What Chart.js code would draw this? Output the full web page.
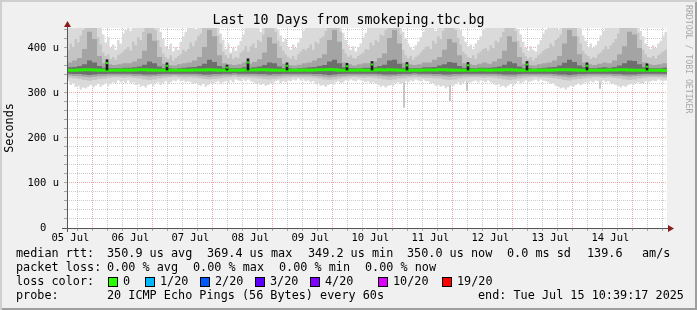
<!DOCTYPE html>
<html>
<head>
<meta charset="utf-8">
<script src="https://cdn.jsdelivr.net/npm/chart.js@4.4.1/dist/chart.umd.min.js"></script>
<style>
  html, body { margin: 0; padding: 0; background: #f0f0f0; }
  #frame {
    position: relative; width: 697px; height: 310px; overflow: hidden;
    background: #f0f0f0;
    box-shadow: inset 2px 2px 0 #cfcfcf, inset -2px -2px 0 #9e9e9e;
    font-family: "DejaVu Sans Mono", monospace; color: #000;
  }
  #chart { position: absolute; left: 0; top: 0; }
  #title { position: absolute; left: 0; top: 12px; width: 697px; text-align: center; font-size: 13.3px; line-height: 16px; white-space: pre; }
  #mark { position: absolute; left: 684px; top: 5px; writing-mode: vertical-rl; font-size: 8.2px; line-height: 9px; color: #a8a8a8; white-space: pre; }
  .t { position: absolute; white-space: pre; font-size: 11.8px; line-height: 14px; }
  .box { position: absolute; top: 277px; width: 8px; height: 8px; border: 1px solid #000; }
</style>
</head>
<body>
<div id="frame">
  <canvas id="chart" width="697" height="310"></canvas>
  <div id="title">Last 10 Days from smokeping.tbc.bg</div>
  <div id="mark">RRDTOOL / TOBI OETIKER</div>
  <div id="legend"></div>
</div>
<script>
// graph starts Sat Jul 05 10:39:17; x values are hours after that
const startClock = 10 + 39 / 60 + 17 / 3600;
const dayLabels = ["05 Jul", "06 Jul", "07 Jul", "08 Jul", "09 Jul", "10 Jul", "11 Jul", "12 Jul", "13 Jul", "14 Jul"];
const yMajorTicks = [0, 100, 200, 300, 400];
const yTickLabels = ["0  ", "100 u", "200 u", "300 u", "400 u"];

// hourly smoke envelopes (24 per row = 1 day), microseconds
const smokeTop = [
  450,450,444,450,450,450,450,450,450,450,450,450,450,448,430,412,424,400,408,396,418,410,432,440,
  450,438,450,450,450,450,450,450,450,450,450,450,446,436,420,404,398,410,392,402,396,414,426,436,
  450,450,450,442,450,450,450,450,450,450,450,450,450,432,418,398,410,390,400,394,406,416,430,446,
  444,450,450,450,450,436,450,450,450,450,450,450,440,428,414,420,402,396,408,400,412,422,438,450,
  450,450,450,450,450,450,450,450,450,450,450,450,450,450,434,418,406,396,404,392,402,410,424,434,
  450,446,450,450,450,450,450,450,450,450,450,450,450,446,436,420,410,402,396,406,414,424,436,450,
  450,450,450,438,450,450,450,450,450,450,450,450,450,440,426,414,404,408,398,410,418,426,440,446,
  446,450,450,450,450,450,450,450,450,450,450,450,442,430,414,400,394,404,396,392,408,418,432,440,
  450,450,450,450,440,450,450,450,450,450,450,450,450,444,428,416,402,410,400,406,416,428,438,450,
  450,450,450,450,450,450,450,450,450,450,450,450,450,438,426,410,404,398,406,400,410,416,428,436
];
const smokeMidTop = [
  396,410,402,420,412,428,440,450,450,450,450,446,424,408,390,382,386,376,380,374,384,388,392,398,
  402,394,414,406,424,418,436,450,450,450,448,440,418,402,388,380,376,384,372,378,382,386,396,392,
  398,412,404,416,426,432,446,450,450,450,450,450,428,410,392,384,378,386,376,380,378,390,394,404,
  392,404,410,400,418,414,430,446,450,450,444,436,416,404,394,386,380,376,382,374,386,392,398,396,
  400,408,396,414,410,422,426,438,450,450,450,450,450,436,398,388,380,384,378,376,382,386,390,398,
  396,412,406,418,414,430,428,440,450,450,450,450,448,430,396,384,378,382,374,380,384,390,396,402,
  404,398,416,410,426,420,438,450,450,450,446,440,422,408,392,386,380,378,384,376,388,392,398,400,
  394,406,400,416,412,424,436,448,450,450,448,438,416,402,390,382,376,380,372,378,384,388,394,398,
  400,410,404,418,422,430,444,450,450,450,450,446,426,410,394,386,382,376,380,378,386,390,396,404,
  398,406,412,420,432,446,450,450,450,450,450,444,434,418,396,386,380,378,382,376,384,388,392,396
];
const smokeLow = [
  326,318,322,314,316,308,312,310,314,318,312,316,320,314,318,322,316,320,324,322,328,324,326,322,
  328,322,324,318,320,314,316,312,318,320,316,322,324,318,322,326,320,324,328,326,330,326,328,324,
  326,324,320,322,318,316,320,314,318,322,320,324,326,320,324,326,322,328,324,330,328,326,330,326,
  330,326,324,320,322,318,320,316,318,322,320,326,328,322,326,324,328,326,330,328,332,328,330,326,
  328,324,326,320,322,316,318,314,318,320,318,324,326,322,324,328,326,330,328,326,330,328,326,324,
  326,322,324,320,318,314,316,312,316,318,316,322,324,320,322,326,324,328,326,330,328,326,330,326,
  326,320,322,316,318,314,316,310,314,318,316,320,324,318,322,326,322,324,326,328,324,328,326,324,
  328,324,322,318,320,314,316,312,316,320,316,322,326,320,324,328,324,326,328,330,326,330,328,326,
  324,320,322,316,314,310,312,308,312,316,314,318,322,318,320,324,322,326,324,328,326,324,328,324,
  326,322,320,318,316,312,316,314,318,320,318,322,324,320,322,326,324,326,328,326,330,328,326,328
];

// inner smoke envelopes, one value per 2 hours (12 per row = 1 day)
const smokeDarkTop = [
  368,372,378,398,436,420,382,366,364,362,364,366,
  366,370,376,394,432,416,380,365,362,361,364,366,
  368,372,380,402,440,426,384,366,364,362,364,368,
  365,369,375,390,424,410,378,365,362,361,363,366,
  368,372,378,386,418,440,414,368,364,361,364,366,
  366,370,378,388,422,440,410,367,364,362,364,368,
  368,374,380,396,420,412,384,366,364,362,365,368,
  365,370,376,394,426,414,380,365,362,361,364,366,
  368,372,382,410,440,426,386,368,364,362,365,368,
  366,372,386,404,436,430,400,368,364,362,364,366
];
const smokeCoreTop = [
  357,358,360,364,372,368,360,356,355,355,355,356,
  356,357,359,363,370,366,359,355,355,354,355,356,
  357,358,360,365,374,369,360,356,355,355,355,357,
  356,357,359,362,368,366,359,355,355,354,355,356,
  357,358,360,362,370,374,366,357,355,355,355,356,
  356,357,360,363,372,374,365,356,355,355,355,357,
  357,358,361,364,369,367,360,356,355,355,356,356,
  356,357,359,363,370,366,359,355,355,354,355,356,
  357,358,361,367,374,369,361,357,355,355,356,357,
  356,358,361,366,372,371,364,357,355,355,355,356
];
const smokeCoreLow = [
  343,342,342,341,340,341,342,342,343,343,343,343,
  343,342,342,341,341,341,342,343,343,343,343,343,
  343,343,342,341,341,342,342,343,343,344,343,343,
  343,343,342,342,341,342,342,343,343,343,343,343,
  343,342,342,341,340,341,342,343,343,343,343,343,
  343,343,342,341,341,341,342,343,343,344,343,343,
  343,342,342,341,341,342,342,343,343,343,343,343,
  343,343,342,341,341,341,342,343,343,343,343,343,
  343,342,341,341,340,341,342,342,343,343,343,343,
  343,342,342,341,341,341,342,343,343,343,343,343
];
const smokeDarkLow = [
  339,338,337,336,335,336,337,338,339,339,339,339,
  339,338,338,337,336,337,338,339,339,340,339,339,
  339,339,338,337,336,337,338,339,339,340,339,339,
  339,339,338,337,337,337,338,339,339,339,339,339,
  339,338,337,336,335,336,337,338,339,339,339,339,
  339,339,338,337,336,337,338,339,339,340,339,339,
  339,338,338,337,336,337,338,339,339,339,339,339,
  339,339,338,337,336,336,338,339,339,339,339,339,
  339,338,337,336,335,336,337,338,339,339,339,339,
  339,338,338,337,336,337,338,339,339,339,339,339
];
const smokeMidLow = [
  334,333,331,329,327,329,331,332,334,335,335,334,
  335,334,332,330,329,330,332,334,335,336,335,334,
  335,334,333,331,330,331,332,334,335,336,335,335,
  335,334,333,331,330,331,333,334,335,336,335,335,
  335,334,332,330,329,330,332,334,335,336,335,334,
  335,334,332,330,329,330,332,333,335,335,335,334,
  334,333,332,330,329,330,332,334,335,335,335,334,
  335,334,332,330,329,330,332,334,335,336,335,335,
  334,333,331,329,328,330,331,333,334,335,335,334,
  335,334,332,330,329,330,332,334,335,335,335,334
];
const medianRtt = [
  350.6,350.8,351.0,351.4,351.8,351.2,350.8,350.6,350.4,350.4,350.6,351.0,
  350.8,351.2,351.8,351.6,351.2,350.8,350.6,350.4,350.4,350.6,350.8,350.8,
  350.6,351.0,351.2,351.0,351.4,351.0,350.6,350.4,350.6,350.6,350.8,351.0,
  351.0,351.2,351.4,351.6,351.2,350.8,350.6,350.4,350.6,350.8,350.8,351.0,
  350.8,351.0,351.4,351.8,352.0,351.4,350.8,350.6,350.6,350.8,351.0,350.8,
  350.8,351.2,351.4,351.2,351.6,351.2,350.8,350.6,350.4,350.6,350.8,351.0,
  351.0,351.2,351.6,351.4,351.0,350.8,350.6,350.4,350.6,350.8,351.0,351.2,
  350.8,351.0,351.2,351.6,351.4,351.0,350.6,350.4,350.6,350.6,350.8,351.0,
  350.8,351.0,351.4,351.8,351.6,351.2,350.8,350.6,350.4,350.6,350.8,350.8,
  351.0,351.2,351.4,351.6,351.2,350.8,350.6,350.4,350.4,350.6,350.8,350.0
];

// short median jumps (hours after start) and long single-sample dips
const spikeHours = [16, 40, 64, 72.4, 88, 112, 122, 136, 160.4, 184, 208, 232];
const spikeTop = [374, 367, 362, 376, 367, 366, 370, 368, 368, 370, 367, 365];
const spikeMedian = [368, 362, 358, 369.4, 362, 361, 365, 363, 363, 365, 362, 360];
const dipHours = [134.8, 153.2, 160.0, 213.2];
const dipLow = [268, 283, 306, 310];

const lossColors = ["#26ff00", "#00b8ff", "#0059ff", "#5e00ff", "#7e00ff", "#dd00ff", "#ff0000"];
const lossLabels = ["0", "1/20", "2/20", "3/20", "4/20", "10/20", "19/20"];

// ---- legend (html text) ----
const legend = document.getElementById("legend");
function txt(s, x, y) {
  const d = document.createElement("div");
  d.className = "t";
  d.style.left = x + "px";
  d.style.top = y + "px";
  d.textContent = s;
  legend.appendChild(d);
}
txt("median rtt:", 16, 246);
txt("350.9 us avg", 107, 246);
txt("369.4 us max", 207, 246);
txt("349.2 us min", 308, 246);
txt("350.0 us now", 407, 246);
txt("0.0 ms sd", 507, 246);
txt("139.6", 587, 246);
txt("am/s", 642, 246);
txt("packet loss:", 16, 260);
txt("0.00 % avg", 107, 260);
txt("0.00 % max", 193, 260);
txt("0.00 % min", 279, 260);
txt("0.00 % now", 365, 260);
txt("loss color:", 16, 274);
const boxX = [108, 145, 200, 255, 310, 378, 442];
lossLabels.forEach((lab, i) => {
  const b = document.createElement("div");
  b.className = "box";
  b.style.left = boxX[i] + "px";
  b.style.background = lossColors[i];
  legend.appendChild(b);
  txt(lab, boxX[i] + 15, 274);
});
txt("probe:", 16, 288);
txt("20 ICMP Echo Pings (56 Bytes) every 60s", 107, 288);
txt("end: Tue Jul 15 10:39:17 2025", 478, 288);

// ---- chart ----
// repeat the last value so the final step reaches the right edge
const pts = (arr, step) => arr.concat([arr[arr.length - 1]]).map((v, i) => ({ x: i * step, y: v }));
const firstNoon = 12 - startClock;

const majorGrid = "rgba(220,30,30,0.38)";
const minorGrid = "rgba(120,120,120,0.38)";

function band(upper, upStep, lower, lowStep, color, order) {
  return [
    { data: pts(upper, upStep), fill: "+1", backgroundColor: color, borderColor: "transparent",
      borderWidth: 0, pointRadius: 0, stepped: "before", order: order },
    { data: pts(lower, lowStep), fill: false, borderColor: "transparent",
      borderWidth: 0, pointRadius: 0, stepped: "before", order: order }
  ];
}

const rrdFrame = {
  id: "rrdFrame",
  beforeDraw(chart) {
    const { ctx, chartArea: a } = chart;
    ctx.save();
    ctx.fillStyle = "#ffffff";
    ctx.fillRect(a.left, a.top, a.right - a.left, a.bottom - a.top);
    ctx.restore();
  },
  afterDraw(chart) {
    const { ctx, chartArea: a } = chart;
    ctx.save();
    ctx.strokeStyle = "#555555";
    ctx.lineWidth = 1;
    ctx.beginPath();
    ctx.moveTo(a.left + 0.5, a.bottom + 4);
    ctx.lineTo(a.left + 0.5, a.top - 2);
    ctx.moveTo(a.left - 5, a.bottom + 0.5);
    ctx.lineTo(a.right + 2, a.bottom + 0.5);
    ctx.stroke();
    ctx.fillStyle = "#8b1c1c";
    ctx.beginPath();
    ctx.moveTo(a.left + 0.5, a.top - 7);
    ctx.lineTo(a.left + 4, a.top - 1);
    ctx.lineTo(a.left - 3, a.top - 1);
    ctx.closePath();
    ctx.fill();
    ctx.beginPath();
    ctx.moveTo(a.right + 7, a.bottom + 0.5);
    ctx.lineTo(a.right + 1, a.bottom - 3);
    ctx.lineTo(a.right + 1, a.bottom + 4);
    ctx.closePath();
    ctx.fill();
    ctx.restore();
  }
};

Chart.defaults.font.family = "'DejaVu Sans Mono', monospace";
Chart.defaults.color = "#000";

const datasets = [].concat(
  band(smokeCoreTop, 2, smokeCoreLow, 2, "#6e6e6e", 7),
  band(smokeDarkTop, 2, smokeDarkLow, 2, "#a4a4a4", 8),
  band(smokeMidTop, 1, smokeMidLow, 2, "#c4c4c4", 9),
  band(smokeTop, 1, smokeLow, 1, "#dadada", 10),
  [
    { data: pts(medianRtt, 2), borderColor: "#26f000", borderWidth: 3, pointRadius: 0,
      stepped: "before", fill: false, order: 2 },
    { type: "bar", data: dipHours.map((h, i) => ({ x: h, y: [dipLow[i], 340] })),
      backgroundColor: "#bcbcbc", barThickness: 1, grouped: false, order: 11 },
    { type: "bar", data: spikeHours.map((h, i) => ({ x: h, y: [351, spikeTop[i]] })),
      backgroundColor: "#1a1a1a", barThickness: 2, grouped: false, order: 1 },
    { type: "bar", data: spikeHours.map((h, i) => ({ x: h, y: [spikeMedian[i] - 3, spikeMedian[i]] })),
      backgroundColor: "#26f000", barThickness: 2, grouped: false, order: 0 }
  ]
);

new Chart(document.getElementById("chart"), {
  type: "line",
  data: { datasets: datasets },
  plugins: [rrdFrame],
  options: {
    responsive: false,
    animation: false,
    devicePixelRatio: 1,
    layout: { padding: { left: 0, top: 28, right: 30, bottom: 62 } },
    plugins: { legend: { display: false }, tooltip: { enabled: false } },
    scales: {
      x: {
        type: "linear", min: 0, max: 240, offset: false, z: 1,
        afterBuildTicks: scale => {
          const ticks = [];
          for (let h = firstNoon; h < 240; h += 6) ticks.push({ value: h });
          scale.ticks = ticks;
        },
        afterFit: scale => { scale.height = 20; },
        border: { display: false, dash: [1, 1] },
        grid: {
          color: ctx => {
            if (!ctx.tick) return minorGrid;
            const k = Math.round((ctx.tick.value - firstNoon) / 6);
            return k % 4 === 2 ? majorGrid : minorGrid;
          },
          tickLength: 3,
          tickColor: "rgba(120,120,120,0.6)"
        },
        ticks: {
          autoSkip: false, maxRotation: 0, padding: 1,
          font: { size: 10.5 },
          callback: v => {
            const k = Math.round((v - firstNoon) / 6);
            return k % 4 === 0 ? dayLabels[k / 4] : "";
          }
        }
      },
      y: {
        type: "linear", min: 0, max: 444.44, z: 1,
        afterBuildTicks: scale => {
          const ticks = [];
          for (let v = 0; v <= 440; v += 20) ticks.push({ value: v });
          scale.ticks = ticks;
        },
        afterFit: scale => { scale.width = 67; },
        border: { display: false, dash: [1, 1] },
        grid: {
          color: ctx => {
            if (!ctx.tick || ctx.tick.value === 0) return "transparent";
            return ctx.tick.value % 100 === 0 ? majorGrid : minorGrid;
          },
          tickLength: 3,
          tickColor: "rgba(120,120,120,0.6)"
        },
        title: { display: true, text: "Seconds", font: { size: 11.8 }, padding: { top: 3, bottom: 0 } },
        ticks: {
          autoSkip: false, padding: 5,
          font: { size: 10.5 },
          callback: v => {
            const k = yMajorTicks.indexOf(v);
            return k >= 0 ? yTickLabels[k] : "";
          }
        }
      }
    }
  }
});
</script>
</body>
</html>
